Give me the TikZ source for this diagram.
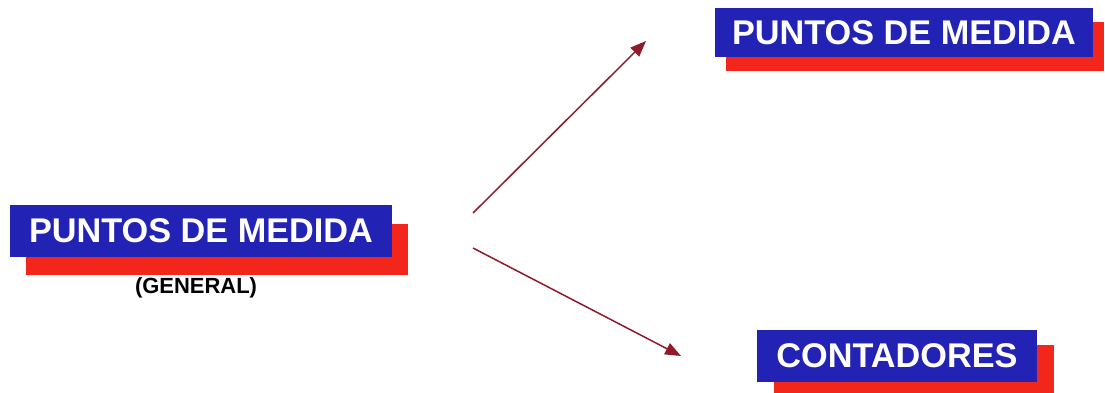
\documentclass[tikz,border=0pt]{standalone}
\usepackage{fontspec}
\setmainfont{Liberation Sans}
\usetikzlibrary{calc,positioning,shadows,arrows.meta}
\definecolor{pmblue}{HTML}{2222B4}
\definecolor{pmred}{HTML}{F2261A}
\definecolor{pmarrow}{HTML}{8E1A2A}
\tikzset{
 pm box/.style 2 args={fill=pmblue,text=white,inner sep=0pt,outer sep=0pt,
                       font=\fontsize{19.5}{22}\selectfont\bfseries,
                       drop shadow={shadow xshift=#1,shadow yshift=#2,
                                    fill=pmred,opacity=1}},
 pm note/.style={font=\fontsize{12.5}{14}\selectfont\bfseries,text=black},
 pm arrow/.style={draw=pmarrow,line width=.85pt,
                  -{Triangle[length=9pt,width=7pt,fill=pmarrow]}}
}
\begin{document}
\begin{tikzpicture}[x=.02cm,y=-.02cm]
 \clip (0,0) rectangle (1105,392);
 \fill[white] (0,0) rectangle (1105,392);
 % boxes
 \node[pm box={.32cm}{-.37cm},minimum width=7.64cm,minimum height=1.04cm]
   (general) at (201,231) {PUNTOS DE MEDIDA};
 \node[pm note] (gentag) at (196,288) {(GENERAL)};
 \node[pm box={.22cm}{-.28cm},minimum width=7.56cm,minimum height=.98cm]
   (puntos) at (904,32.5) {PUNTOS DE MEDIDA};
 \node[pm box={.34cm}{-.3cm},minimum width=5.6cm,minimum height=1.04cm]
   (contadores) at (897,356) {CONTADORES};
 % arrows
 \coordinate (up0) at (473,213);
 \coordinate (up1) at (646,41);
 \coordinate (dn0) at (473,248);
 \coordinate (dn1) at (681,356);
 \draw[pm arrow] (up0)--(up1);
 \draw[pm arrow] (dn0)--(dn1);
\end{tikzpicture}
\end{document}
